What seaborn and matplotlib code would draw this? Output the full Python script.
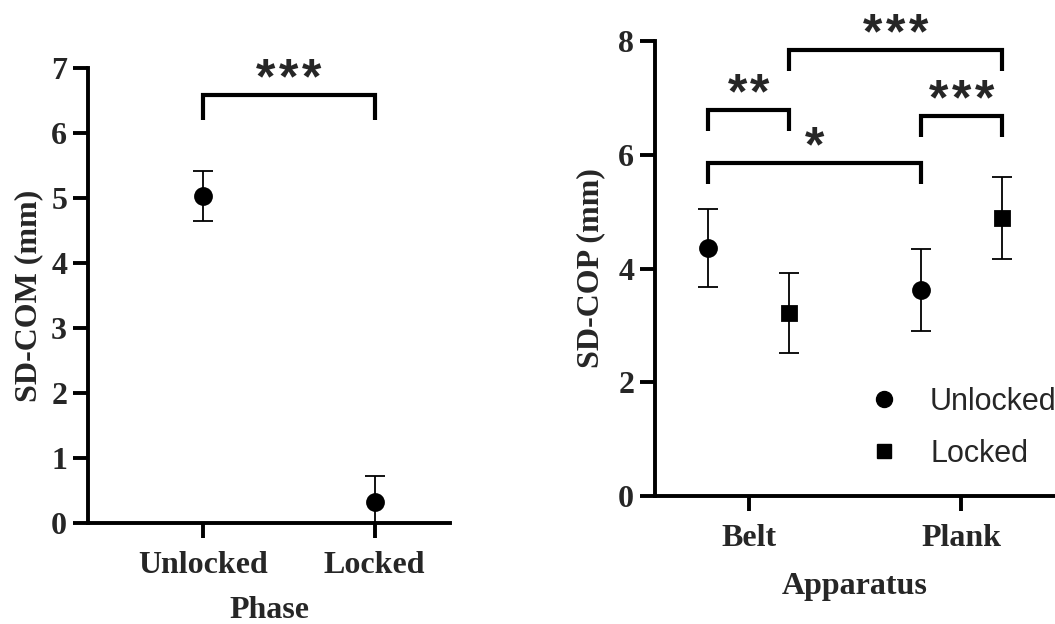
import numpy as np
import pandas as pd
import seaborn as sns
import matplotlib
matplotlib.use("Agg")
import matplotlib.pyplot as plt
from matplotlib.lines import Line2D

# ---------------- data ----------------
phase = ["Unlocked", "Locked"]
com_mean = [5.03, 0.33]
com_err = [0.39, 0.40]

apparatus = ["Belt", "Plank"]
conditions = ["Unlocked", "Locked"]
cop_unlocked = [4.36, 3.62]
cop_unlocked_err = [0.69, 0.72]
cop_locked = [3.22, 4.89]
cop_locked_err = [0.70, 0.72]

# significance brackets: (left point, right point, height, label)
left_brackets = [((0, None), (1, None), 6.58, "***")]
right_brackets = [
    ((0, 0), (0, 1), 6.78, "**"),
    ((0, 1), (1, 1), 7.84, "***"),
    ((1, 0), (1, 1), 6.68, "***"),
    ((0, 0), (1, 0), 5.85, "*"),
]

sns.set_theme(style="ticks")
plt.rcParams["font.family"] = ["Liberation Serif", "DejaVu Serif"]

W, H = 1055, 624
fig = plt.figure(figsize=(W / 100, H / 100), dpi=100)
axL = fig.add_axes([88 / W, 1 - 523 / H, (450 - 88) / W, (523 - 68) / H])
axR = fig.add_axes([655 / W, 1 - 496 / H, (1055 - 655) / W, (496 - 41) / H])

FS = 23
TICKFONT = dict(family="Liberation Serif", weight="bold", size=FS)
SPINE_W = 2.8
ms_circle = 11.5
ms_square = 10.5

def style_axes(ax):
    sns.despine(ax=ax)
    for s in ["left", "bottom"]:
        ax.spines[s].set_linewidth(SPINE_W)
        ax.spines[s].set_color("black")
    ax.tick_params(axis="both", direction="out", width=SPINE_W, length=11,
                   color="black", labelsize=FS)
    ax.tick_params(axis="y", pad=4)
    ax.tick_params(axis="x", pad=9)
    for lab in ax.get_xticklabels() + ax.get_yticklabels():
        lab.set_fontfamily("Liberation Serif")
        lab.set_fontweight("bold")
        lab.set_fontsize(FS)
    ax.set_facecolor("white")

def bracket(ax, x1, x2, y, drop, label):
    ax.plot([x1, x1, x2, x2], [y - drop, y, y, y - drop], color="black",
            lw=3.0, solid_joinstyle="miter", solid_capstyle="butt", clip_on=False)
    n = len(label)
    xc = (x1 + x2) / 2
    for i, ch in enumerate(label):
        ax.annotate(ch, xy=(xc, y), xytext=((i - (n - 1) / 2) * 16.5, 10.5),
                    textcoords="offset points", ha="center", va="center",
                    family="Liberation Sans", weight="bold", fontsize=36,
                    annotation_clip=False)

# ---------------- left panel ----------------
dfL = pd.DataFrame({"Phase": phase, "SD": com_mean})
sns.pointplot(data=dfL, x="Phase", y="SD", order=phase, color="black",
              markers="o", linestyles="none", errorbar=None,
              markersize=ms_circle, ax=axL)
xL = np.arange(len(phase))
axL.errorbar(xL, com_mean, yerr=com_err, fmt="none", ecolor="black",
             elinewidth=1.3, capsize=7, capthick=1.3, zorder=1)
axL.set_xlim(-0.67, 1.44)
axL.set_ylim(0, 7)
axL.set_yticks(range(0, 8))
axL.set_xlabel("Phase", fontdict=TICKFONT, labelpad=12)
axL.set_ylabel("SD-COM (mm)", fontdict=TICKFONT, labelpad=6)
style_axes(axL)

for (a, _), (b, _), y, lab in left_brackets:
    bracket(axL, xL[a], xL[b], y, 0.38, lab)

# ---------------- right panel ----------------
dfR = pd.DataFrame({
    "Apparatus": apparatus * 2,
    "Condition": [conditions[0]] * 2 + [conditions[1]] * 2,
    "SD": cop_unlocked + cop_locked,
})
dodge = 0.38
sns.pointplot(data=dfR, x="Apparatus", y="SD", hue="Condition",
              order=apparatus, hue_order=conditions,
              palette=["black", "black"], markers=["o", "s"],
              linestyles="none", errorbar=None, dodge=dodge,
              markersize=ms_circle, ax=axR, legend=False)
for ln in axR.lines:
    if ln.get_marker() == "s":
        ln.set_markersize(ms_square)

xR = np.arange(len(apparatus))
offsets = [-dodge / 2, dodge / 2]
means = [cop_unlocked, cop_locked]
errs = [cop_unlocked_err, cop_locked_err]
for k in range(2):
    axR.errorbar(xR + offsets[k], means[k], yerr=errs[k], fmt="none",
                 ecolor="black", elinewidth=1.3, capsize=7, capthick=1.3, zorder=1)

axR.set_xlim(-0.44, 1.44)
axR.set_ylim(0, 8)
axR.set_yticks([0, 2, 4, 6, 8])
axR.set_xlabel("Apparatus", fontdict=TICKFONT, labelpad=14)
axR.set_ylabel("SD-COP (mm)", fontdict=TICKFONT, labelpad=9)
style_axes(axR)

for (ga, ka), (gb, kb), y, lab in right_brackets:
    x1 = xR[ga] + offsets[ka]
    x2 = xR[gb] + offsets[kb]
    bracket(axR, x1, x2, y, 0.37, lab)

handles = [
    Line2D([], [], marker="o", color="black", linestyle="none", markersize=ms_circle),
    Line2D([], [], marker="s", color="black", linestyle="none", markersize=ms_square),
]
leg = axR.legend(handles, conditions, loc="upper left",
                 bbox_to_anchor=(0.535, 0.24), frameon=False,
                 prop=dict(family="Liberation Sans", size=22),
                 handlelength=1.0, handletextpad=1.0, labelspacing=0.72,
                 borderaxespad=0, borderpad=0)

fig.savefig("out.png", dpi=100, facecolor="white")
